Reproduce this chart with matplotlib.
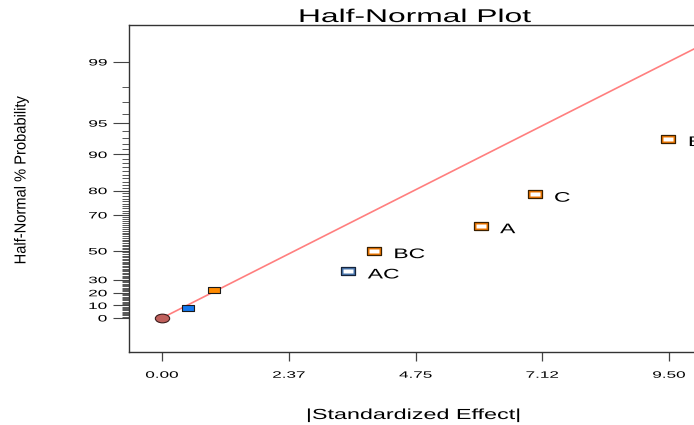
import math
import numpy as np
import matplotlib
matplotlib.use("Agg")
import matplotlib.pyplot as plt
from matplotlib.path import Path
from matplotlib.patheffects import AbstractPathEffect
from matplotlib.transforms import Affine2D
from matplotlib.ticker import FixedLocator, NullFormatter
from statistics import NormalDist

plt.rcParams["font.family"] = ["Liberation Sans", "DejaVu Sans"]

# ---------------- data ----------------
effects = [0.00, 0.48, 0.97, 3.49, 3.97, 5.97, 6.98, 9.49]      # |standardized effect|
probs = [0.0, 7.8, 22.0, 36.4, 50.2, 64.7, 78.7, 92.9]          # half-normal % probability
point_labels = ["", "", "", "AC", "BC", "A", "C", "B"]

line_x = [0.0, 10.10]        # reference line |effect|
line_p = [0.0, 99.39]        # reference line % probability

xtick_vals = [0.0, 2.375, 4.75, 7.125, 9.5]
xtick_labels = ["0.00", "2.37", "4.75", "7.12", "9.50"]
ytick_major = [0, 10, 20, 30, 50, 70, 80, 90, 95, 99]
ytick_minor = [v for v in range(1, 99) if v not in ytick_major]

title = "Half-Normal Plot"
xlabel = "|Standardized Effect|"
ylabel = "Half-Normal % Probability"

# ---------------- half-normal probability scale ----------------
_ND = NormalDist()
_inv_cdf = np.vectorize(lambda q: _ND.inv_cdf(q) if 0.0 < q < 1.0 else np.nan, otypes=[float])
_erf = np.vectorize(math.erf, otypes=[float])


def _fwd(p):
    p = np.asarray(p, dtype=float)
    q = np.clip(0.5 + p / 200.0, 1e-12, 1 - 1e-12)
    return _inv_cdf(q)


def _inv(z):
    z = np.asarray(z, dtype=float)
    return 100.0 * _erf(z / math.sqrt(2.0))


# ---------------- stretched text rendering ----------------
class Stretch(AbstractPathEffect):
    def __init__(self, sx=1.0, sy=1.0, anchor="center"):
        super().__init__()
        self.sx, self.sy, self.anchor = sx, sy, anchor

    def draw_path(self, renderer, gc, tpath, affine, rgbFace=None):
        ext = tpath.get_extents()
        if self.anchor == "left":
            a = 0.0
        elif self.anchor == "right":
            a = ext.x1
        else:
            a = 0.5 * (ext.x0 + ext.x1)
        t = Affine2D().translate(-a, 0).scale(self.sx, self.sy).translate(a, 0) + affine
        renderer.draw_path(gc, tpath, t, rgbFace)


W, H = 694, 425
fig = plt.figure(figsize=(W / 100, H / 100), dpi=100)
ax = fig.add_axes([129 / W, 73 / H, 572 / W, 327 / H])
ax.set_yscale("function", functions=(_fwd, _inv))

# reference line
ax.plot(line_x, line_p, color="#FF7F7F", lw=1.2, zorder=2, solid_capstyle="butt")

# marker shapes
circ = Path.unit_circle()
ellipse = Path(circ.vertices * np.array([1.65, 1.0]), circ.codes)
rect_filled = [(-1.65, -1), (1.65, -1), (1.65, 1), (-1.65, 1), (-1.65, -1)]
rect_inner = [(-2.0, -1), (2.0, -1), (2.0, 1), (-2.0, 1), (-2.0, -1)]

# origin point
ax.plot(effects[0], probs[0], ls="none", marker=ellipse, ms=10.3,
        mfc="#C0605C", mec="#3a1a1a", mew=0.8, zorder=4)
# small filled effects
filled_colors = {1: "#1479F0", 2: "#FF8A00"}
for i, c in filled_colors.items():
    ax.plot(effects[i], probs[i], ls="none", marker=rect_filled, ms=8.3,
            mfc=c, mec="#1a1a1a", mew=0.8, zorder=4)
# labelled (hollow) effects
ring_colors = {3: ("#4a78b0", "#15233a"), 4: ("#F07800", "#3a2000"),
               5: ("#F07800", "#3a2000"), 6: ("#F07800", "#3a2000"),
               7: ("#F07800", "#3a2000")}
for i, (fc, ec) in ring_colors.items():
    ax.plot(effects[i], probs[i], ls="none", marker=rect_filled, ms=10,
            mfc=fc, mec=ec, mew=0.9, zorder=4)
    ax.plot(effects[i], probs[i], ls="none", marker=rect_inner, ms=7.0,
            mfc="white", mec="none", zorder=5)

for x, p, lab in zip(effects, probs, point_labels):
    if lab:
        ax.annotate(lab, (x, p), xytext=(14, -5.4), textcoords="offset points",
                    ha="left", va="baseline", fontsize=10, color="black",
                    path_effects=[Stretch(1.65, anchor="left")], zorder=6,
                    annotation_clip=False)

ax.set_xlim(-0.62, 10.10)
ax.set_ylim(-26.8, 99.68)

ax.xaxis.set_major_locator(FixedLocator(xtick_vals))
ax.set_xticklabels(xtick_labels)
ax.yaxis.set_major_locator(FixedLocator(ytick_major))
ax.set_yticklabels([str(v) for v in ytick_major])
ax.yaxis.set_minor_locator(FixedLocator(ytick_minor))
ax.yaxis.set_minor_formatter(NullFormatter())
ax.xaxis.set_minor_locator(FixedLocator([]))

for s in ["left", "bottom", "top"]:
    ax.spines[s].set_color("#333333")
    ax.spines[s].set_linewidth(1.0)
ax.spines["right"].set_visible(False)

ax.tick_params(axis="x", which="major", direction="out", length=6.5, width=0.9,
               color="#444444", pad=7.0, labelsize=6.7, top=False)
ax.tick_params(axis="y", which="major", direction="out", length=11.5, width=0.8,
               color="#444444", pad=4.3, labelsize=6.7, right=False)
ax.tick_params(axis="y", which="minor", direction="out", length=5, width=0.7,
               color="#555555", right=False)

for lab in ax.get_xticklabels():
    lab.set_path_effects([Stretch(1.84, anchor="center")])
for lab in ax.get_yticklabels():
    lab.set_path_effects([Stretch(1.85, anchor="right")])

fig.text(415 / W, 1 - 22 / H, title, ha="center", va="baseline", fontsize=13.3,
         path_effects=[Stretch(1.72, anchor="center")])
fig.text(414 / W, 1 - 419 / H, xlabel, ha="center", va="baseline", fontsize=10.5,
         path_effects=[Stretch(1.6, anchor="center")])
fig.text(21 / W, 1 - 180 / H, ylabel, ha="center", va="center", rotation=90,
         fontsize=11.5, path_effects=[Stretch(0.92, anchor="center")])

fig.savefig("out.png", dpi=100, facecolor="white")
